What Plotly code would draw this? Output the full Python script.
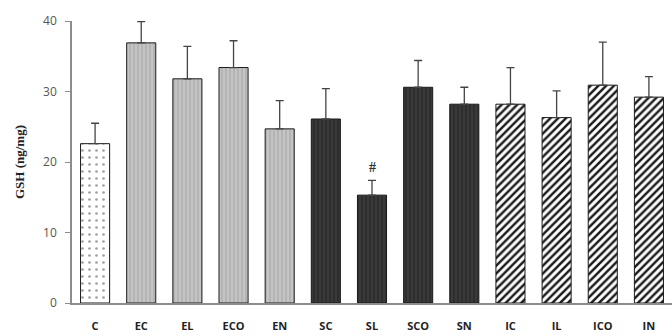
import plotly.graph_objects as go

categories = ["C", "EC", "EL", "ECO", "EN", "SC", "SL", "SCO", "SN", "IC", "IL", "ICO", "IN"]
means = [22.6, 36.9, 31.8, 33.4, 24.7, 26.1, 15.3, 30.6, 28.2, 28.2, 26.3, 30.9, 29.2]
errors = [2.9, 3.0, 4.6, 3.8, 4.0, 4.3, 2.1, 3.8, 2.4, 5.2, 3.8, 6.1, 2.9]
groups = ["C", "E", "E", "E", "E", "S", "S", "S", "S", "I", "I", "I", "I"]
sig_label = "#"
sig_category = "SL"
sig_y = 19.2

styles = {
    "C": dict(bg="#ffffff", fg="#a0a0a0", shape=".", size=7, solidity=0.12),
    "E": dict(bg="#c4c4c4", fg="#adadad", shape="|", size=4, solidity=0.35),
    "S": dict(bg="#3a3a3a", fg="#282828", shape="|", size=4, solidity=0.35),
    "I": dict(bg="#ffffff", fg="#1a1a1a", shape="/", size=5.5, solidity=0.45),
}

fig = go.Figure()
for g, st in styles.items():
    idx = [i for i, gg in enumerate(groups) if gg == g]
    fig.add_trace(go.Bar(
        x=[categories[i] for i in idx],
        y=[means[i] for i in idx],
        width=0.63,
        marker=dict(
            color=st["bg"],
            line=dict(color="#1a1a1a", width=1),
            pattern=dict(shape=st["shape"], fgcolor=st["fg"], bgcolor=st["bg"],
                         size=st["size"], solidity=st["solidity"], fillmode="replace"),
        ),
        error_y=dict(type="data", symmetric=False,
                     array=[errors[i] for i in idx],
                     arrayminus=[0] * len(idx),
                     color="#444444", thickness=1.3, width=4),
        showlegend=False,
        cliponaxis=False,
    ))

fig.add_annotation(x=sig_category, y=sig_y, text=sig_label, showarrow=False,
                   font=dict(family="Liberation Serif", size=14, color="#333333", weight="bold"))

fig.update_layout(
    width=672, height=336,
    margin=dict(l=72, r=0, t=21, b=33),
    paper_bgcolor="white", plot_bgcolor="white",
    barmode="overlay",
    xaxis=dict(
        categoryorder="array", categoryarray=categories,
        range=[-0.5, 12.5],
        showline=True, linecolor="#8c8c8c", linewidth=1.5,
        ticks="", showgrid=False, ticklabelstandoff=12,
        tickfont=dict(family="Open Sans", size=11, color="#222222", weight="bold"),
    ),
    yaxis=dict(
        range=[0, 40], tickvals=[0, 10, 20, 30, 40],
        showline=True, linecolor="#8c8c8c", linewidth=1.5,
        ticks="outside", ticklen=5, tickcolor="#8c8c8c",
        showgrid=False, zeroline=False, ticklabelstandoff=6,
        tickfont=dict(family="Open Sans", size=12, color="#555555"),
        title=dict(text="GSH (ng/mg)", standoff=16,
                   font=dict(family="Liberation Serif", size=13, color="#222222", weight="bold")),
    ),
)

fig.write_html("out.html")
